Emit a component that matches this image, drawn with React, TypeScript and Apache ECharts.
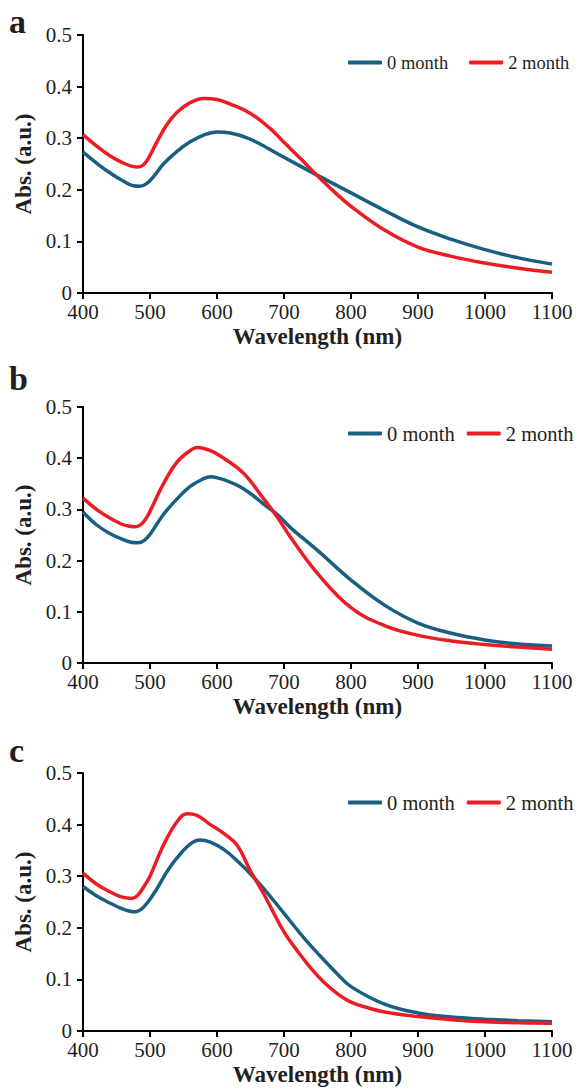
import React, { useEffect, useRef } from "react";
import * as echarts from "echarts";

const xTicks = [400, 500, 600, 700, 800, 900, 1000, 1100];
const yTicks = [0, 0.1, 0.2, 0.3, 0.4, 0.5];
const seriesNames = ["0 month", "2 month"];
const panelLabels = ["a", "b", "c"];
const xTitle = "Wavelength (nm)";
const yTitle = "Abs. (a.u.)";

const aBlueX = [400, 420, 440, 460, 475, 485, 495, 505, 520, 540, 560, 580, 600, 620, 650, 700, 750, 800, 850, 900, 950, 1000, 1050, 1100];
const aBlueY = [0.273, 0.252, 0.233, 0.217, 0.208, 0.207, 0.212, 0.225, 0.25, 0.274, 0.293, 0.306, 0.312, 0.31, 0.298, 0.263, 0.228, 0.194, 0.16, 0.128, 0.104, 0.084, 0.068, 0.056];
const aRedX = [400, 420, 440, 460, 472, 482, 490, 498, 510, 525, 540, 560, 580, 600, 620, 650, 680, 700, 725, 750, 775, 800, 850, 900, 950, 1000, 1050, 1100];
const aRedY = [0.307, 0.285, 0.266, 0.252, 0.246, 0.244, 0.248, 0.262, 0.292, 0.326, 0.35, 0.369, 0.377, 0.375, 0.366, 0.348, 0.318, 0.292, 0.26, 0.227, 0.196, 0.168, 0.122, 0.089, 0.071, 0.058, 0.048, 0.04];

const bBlueX = [400, 420, 440, 460, 472, 482, 492, 502, 520, 540, 560, 580, 590, 610, 640, 670, 690, 710, 750, 800, 850, 900, 950, 1000, 1050, 1100];
const bBlueY = [0.295, 0.27, 0.253, 0.241, 0.236, 0.235, 0.24, 0.255, 0.29, 0.32, 0.345, 0.36, 0.364, 0.358, 0.34, 0.31, 0.29, 0.264, 0.22, 0.162, 0.113, 0.078, 0.058, 0.045, 0.037, 0.033];
const bRedX = [400, 420, 440, 458, 470, 478, 486, 495, 505, 520, 540, 560, 570, 590, 610, 640, 670, 690, 710, 750, 800, 850, 900, 950, 1000, 1050, 1100];
const bRedY = [0.322, 0.3, 0.283, 0.271, 0.267, 0.266, 0.27, 0.284, 0.31, 0.35, 0.392, 0.415, 0.421, 0.415, 0.4, 0.37, 0.32, 0.285, 0.245, 0.175, 0.108, 0.073, 0.054, 0.043, 0.036, 0.031, 0.027];

const cBlueX = [400, 420, 440, 458, 470, 478, 487, 497, 510, 525, 540, 560, 575, 590, 610, 630, 654, 680, 700, 730, 750, 780, 800, 850, 900, 950, 1000, 1050, 1100];
const cBlueY = [0.28, 0.262, 0.248, 0.237, 0.232, 0.231, 0.236, 0.25, 0.275, 0.308, 0.335, 0.362, 0.37, 0.366, 0.352, 0.33, 0.299, 0.26, 0.228, 0.18, 0.151, 0.11, 0.086, 0.052, 0.035, 0.027, 0.023, 0.02, 0.018];
const cRedX = [400, 420, 440, 455, 465, 473, 481, 490, 500, 520, 540, 555, 570, 590, 610, 630, 650, 670, 700, 720, 740, 760, 780, 800, 825, 850, 900, 950, 1000, 1050, 1100];
const cRedY = [0.306, 0.285, 0.27, 0.261, 0.258, 0.257, 0.262, 0.278, 0.3, 0.36, 0.405, 0.421, 0.418, 0.4, 0.383, 0.36, 0.31, 0.265, 0.192, 0.155, 0.122, 0.094, 0.072, 0.056, 0.045, 0.037, 0.028, 0.022, 0.018, 0.016, 0.015];

const panels = [
  { blueX: aBlueX, blueY: aBlueY, redX: aRedX, redY: aRedY },
  { blueX: bBlueX, blueY: bBlueY, redX: bRedX, redY: bRedY },
  { blueX: cBlueX, blueY: cBlueY, redX: cRedX, redY: cRedY },
];

const BLUE = "#185f82";
const RED = "#ed1c24";
const FONT = "Liberation Serif";
const TXT = "#231f20";

const gridTops = [35, 407, 773];
const gridHeights = [258, 256, 258];
const legendTops = [53, 423, 792];
const legendFont = [18.5, 20.5, 20.5];
const legendGap = [21, 12, 12];
const labelY = [21, 378, 750];

function pairs(xs: number[], ys: number[]) {
  return xs.map((x, i) => [x, ys[i]]);
}

export default function App() {
  const ref = useRef<HTMLDivElement>(null);
  useEffect(() => {
    document.body.style.margin = "0";
    if (!ref.current) return;
    const chart = echarts.init(ref.current, null, { renderer: "svg" });
    const grid = gridTops.map((t, i) => ({ left: 83, right: 27, top: t, height: gridHeights[i] }));
    const lineCommon = {
      axisLine: { show: true, lineStyle: { color: "#000", width: 2 } },
      axisTick: { show: true, length: 6, lineStyle: { color: "#000", width: 2 } },
      splitLine: { show: false },
    };
    const nameStyle = { fontFamily: FONT, fontWeight: "bold", fontSize: 23, color: TXT };
    const xAxis = gridTops.map((_, i) => ({
      type: "value", gridIndex: i,
      min: xTicks[0], max: xTicks[xTicks.length - 1], interval: 100,
      name: xTitle, nameLocation: "middle", nameGap: 32, nameTextStyle: nameStyle,
      axisLabel: { fontFamily: FONT, fontSize: 21, lineHeight: 16, color: TXT, margin: 11, formatter: (v: number) => String(v) },
      ...lineCommon,
    }));
    const yAxis = gridTops.map((_, i) => ({
      type: "value", gridIndex: i,
      min: yTicks[0], max: yTicks[yTicks.length - 1], interval: 0.1,
      name: yTitle, nameLocation: "middle", nameGap: 44, nameTextStyle: nameStyle,
      axisLabel: { fontFamily: FONT, fontSize: 21, lineHeight: 16, color: TXT, margin: 11, formatter: (v: number) => String(+v.toFixed(1)) },
      ...lineCommon,
    }));
    const series: any[] = [];
    panels.forEach((p, i) => {
      series.push({
        name: seriesNames[0], type: "line", xAxisIndex: i, yAxisIndex: i,
        data: pairs(p.blueX, p.blueY), smooth: 0.4, showSymbol: false,
        lineStyle: { color: BLUE, width: 3.5 }, itemStyle: { color: BLUE },
      });
      series.push({
        name: seriesNames[1], type: "line", xAxisIndex: i, yAxisIndex: i,
        data: pairs(p.redX, p.redY), smooth: 0.4, showSymbol: false,
        lineStyle: { color: RED, width: 3.5 }, itemStyle: { color: RED },
      });
    });
    const legend = legendTops.map((t, i) => ({
      left: 348, top: t, width: 300, padding: 0, itemWidth: 34, itemHeight: 4, itemGap: legendGap[i],
      icon: "roundRect",
      textStyle: { fontFamily: FONT, fontSize: legendFont[i], color: TXT },
      data: seriesNames,
      selectedMode: false,
    }));
    const graphic = panelLabels.map((l, i) => ({
      type: "text", left: 9, top: labelY[i] - 17,
      style: { text: l, font: `bold 34px ${FONT}`, fill: TXT },
    }));
    chart.setOption({
      animation: false,
      backgroundColor: "#fff",
      textStyle: { fontFamily: FONT, color: TXT },
      grid, xAxis, yAxis, series, legend, graphic,
    });
    return () => chart.dispose();
  }, []);
  return <div ref={ref} style={{ width: 579, height: 1088 }} />;
}
